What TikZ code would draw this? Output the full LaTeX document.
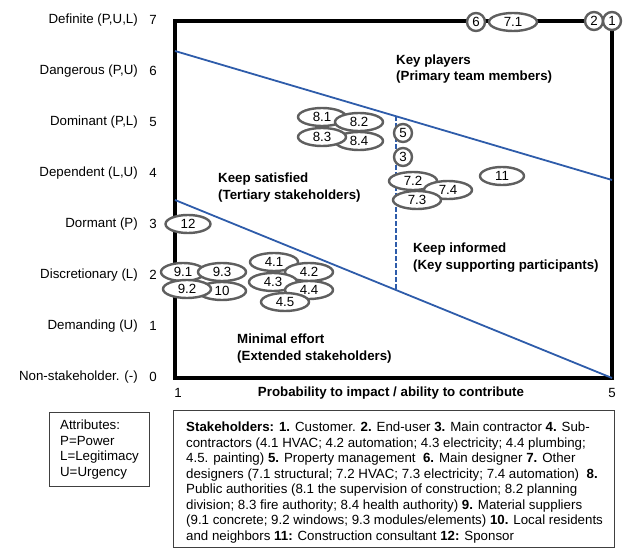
\documentclass[tikz,border=0pt]{standalone}
\usepackage{fontspec}
\setmainfont{Liberation Sans}
\usetikzlibrary{shapes.geometric, calc, positioning}

\definecolor{lineblue}{RGB}{46,92,170}
\definecolor{ringgray}{RGB}{95,95,95}

\begin{document}
\begin{tikzpicture}[
    x=1pt, y=-1pt,
    font=\fontsize{13.3}{15.5}\selectfont,
    stk/.style={ellipse, draw=ringgray, line width=2.4pt, fill=white, minimum width=48pt, minimum height=18pt, inner sep=0pt},
    stkc/.style={circle, draw=ringgray, line width=2.4pt, fill=white, minimum size=18pt, inner sep=0pt},
    axlabel/.style={anchor=east, inner sep=0pt},
    zone/.style={anchor=west, align=left, inner sep=0pt, font=\fontsize{13.3}{16.5}\selectfont\bfseries},
    divider/.style={lineblue, line width=1.8pt},
    frame/.style={draw, line width=3.5pt},
    infobox/.style={draw=black!75, line width=1pt, anchor=north west}
]
\useasboundingbox (0,0) rectangle (624,548);

% Chart frame
\draw[frame] (175,21) rectangle (612,378);

% Salience levels
\foreach \v/\lab in {7/{Definite (P,U,L)}, 6/{Dangerous (P,U)}, 5/{Dominant (P,L)},
    4/{Dependent (L,U)}, 3/{Dormant (P)}, 2/{Discretionary (L)}, 1/{Demanding (U)},
    0/{Non-stakeholder. (-)}} {
  \node[axlabel] (lab\v) at (138,{377-51*\v}) {\lab};
  \node (num\v) at (153,{377-51*\v}) {\v};
}

% Probability axis
\node (px1) at (178,393) {1};
\node (px5) at (612,393) {5};
\node[font=\fontsize{13.3}{15.5}\selectfont\bfseries] (pxtitle) at (391,393) {Probability to impact / ability to contribute};

% Dividing lines
\coordinate (hiL) at (175,51);
\coordinate (hiR) at (612,180);
\coordinate (loL) at (175,200);
\coordinate (loR) at (612,378);
\draw[divider] (hiL) -- (hiR);
\draw[divider] (loL) -- (loR);
\coordinate (splitT) at ($(hiL)!0.506!(hiR)$);
\coordinate (splitB) at ($(loL)!0.506!(loR)$);
\draw[divider, dash pattern=on 5pt off 2pt] (splitT) -- (splitB);

% Zones
\node[zone] (keyplayers) at (396,69) {Key players\\(Primary team members)};
\node[zone] (satisfied) at (218,187.5) {Keep satisfied\\(Tertiary stakeholders)};
\node[zone] (informed) at (413,257.5) {Keep informed\\(Key supporting participants)};
\node[zone] (minimal) at (237,348.5) {Minimal effort\\(Extended stakeholders)};

% Stakeholders
\node[stkc] (s6) at (476,22) {6};
\node[stk] (s71) at (513,22) {7.1};
\node[stkc] (s2) at (594,21) {2};
\node[stkc] (s1) at (612,21) {1};
\node[stkc] (s5) at (403,133) {5};
\node[stkc] (s3) at (403,157) {3};
\node[stk, minimum width=44pt] (s11) at (502,176) {11};
\node[stk] (s72) at (413,181) {7.2};
\node[stk] (s74) at (448,190) {7.4};
\node[stk] (s73) at (417,200) {7.3};
\node[stk] (s81) at (322,117) {8.1};
\node[stk] (s82) at (359,122) {8.2};
\node[stk] (s84) at (359,141) {8.4};
\node[stk] (s83) at (322,137) {8.3};
\node[stk, minimum width=45pt] (s12) at (188,224) {12};
\node[stk, minimum width=44pt] (s91) at (183,272) {9.1};
\node[stk] (s93) at (222,272) {9.3};
\node[stk] (s10) at (222,291) {10};
\node[stk] (s92) at (187,289) {9.2};
\node[stk] (s41) at (274,262) {4.1};
\node[stk] (s42) at (309,272) {4.2};
\node[stk] (s43) at (273,282) {4.3};
\node[stk] (s44) at (309,290) {4.4};
\node[stk] (s45) at (285,302) {4.5};

% Legends
\node[infobox, minimum width=100pt, minimum height=74pt, align=left] (attrbox) at (49,412)
  {Attributes:\\P=Power\\L=Legitimacy\\U=Urgency};
\node[infobox, minimum width=441pt, minimum height=137pt] (keybox) at (173,410) {};
\node[anchor=north west, inner sep=0pt, align=left] (keytext) at ($(keybox.north west)+(13,12)$)
  {\textbf{Stakeholders: 1.} Customer. \textbf{2.} End-user \textbf{3.} Main contractor \textbf{4.} Sub-\\
   contractors (4.1 HVAC; 4.2 automation; 4.3 electricity; 4.4 plumbing;\\
   4.5. painting) \textbf{5.} Property management \ \textbf{6.} Main designer \textbf{7.} Other\\
   designers (7.1 structural; 7.2 HVAC; 7.3 electricity; 7.4 automation) \ \textbf{8.}\\
   Public authorities (8.1 the supervision of construction; 8.2 planning\\
   division; 8.3 fire authority; 8.4 health authority) \textbf{9.} Material suppliers\\
   (9.1 concrete; 9.2 windows; 9.3 modules/elements) \textbf{10.} Local residents\\
   and neighbors \textbf{11:} Construction consultant \textbf{12:} Sponsor};

\end{tikzpicture}
\end{document}
